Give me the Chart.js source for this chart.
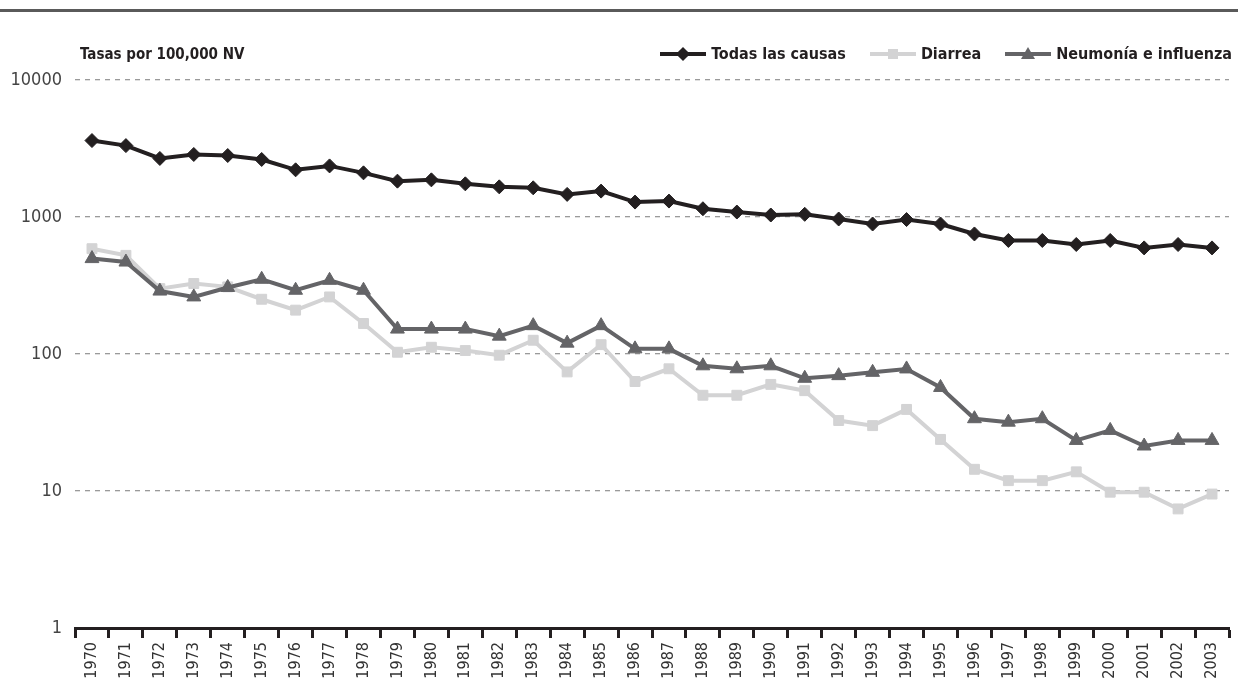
<!DOCTYPE html>
<html>
<head>
<meta charset="utf-8">
<script src="https://cdn.jsdelivr.net/npm/chart.js@4.4.1/dist/chart.umd.min.js"></script>
<style>
  html, body { margin: 0; padding: 0; background: #fff; }
  body { width: 1238px; height: 683px; position: relative; overflow: hidden;
         font-family: "Liberation Sans Narrow", "DejaVu Sans Condensed", Roboto, sans-serif; }
  #topline { position: absolute; left: 0; top: 9px; width: 1238px; height: 3px; background: #5a5a5a; }
  #wrap { position: absolute; left: 0; top: 0; width: 1238px; height: 683px; }
  #title { position: absolute; left: 80px; top: 45px; font-size: 15px; font-weight: bold; color: #231f20; }
  #legend { position: absolute; right: 6px; top: 44px; display: flex; align-items: center;
            font-size: 16px; font-weight: bold; color: #231f20; }
  .item { display: flex; align-items: center; margin-left: 24px; }
  .sym { position: relative; width: 46px; height: 16px; margin-right: 5px; }
  .sym .ln { position: absolute; left: 0; right: 0; top: 6px; height: 4px; }
  .sym .mk { position: absolute; }
</style>
</head>
<body>
<div id="topline"></div>
<div id="wrap"><canvas id="chart" width="1238" height="683"></canvas></div>
<div id="title">Tasas por 100,000 NV</div>
<div id="legend">
  <div class="item"><div class="sym"><div class="ln" style="background:#231f20"></div>
    <div class="mk" style="left:18px;top:3px;width:10px;height:10px;background:#231f20;transform:rotate(45deg)"></div></div>Todas las causas</div>
  <div class="item"><div class="sym"><div class="ln" style="background:#d3d3d4"></div>
    <div class="mk" style="left:18px;top:3px;width:10px;height:10px;background:#d3d3d4"></div></div>Diarrea</div>
  <div class="item"><div class="sym"><div class="ln" style="background:#646467"></div>
    <div class="mk" style="left:16px;top:1px;width:0;height:0;border-left:7px solid transparent;border-right:7px solid transparent;border-bottom:12px solid #646467"></div></div>Neumonía e influenza</div>
</div>
<script>
const years = ["1970","1971","1972","1973","1974","1975","1976","1977","1978","1979","1980","1981",
  "1982","1983","1984","1985","1986","1987","1988","1989","1990","1991","1992","1993","1994","1995",
  "1996","1997","1998","1999","2000","2001","2002","2003"];

const todasLasCausas = [3615, 3320, 2675, 2860, 2810, 2630, 2210, 2360, 2100, 1827, 1867,
  1746, 1660, 1633, 1462, 1545, 1285, 1307, 1149, 1087, 1034, 1046,
  967, 889, 958, 889, 752, 674, 674, 630, 674, 595, 630, 595];

const diarrea = [587, 525, 300, 327, 309, 251, 209, 261, 167,
  103, 112, 106, 98, 126, 74, 117, 63, 78, 50, 50, 60, 54,
  32.7, 30, 39.4, 23.8, 14.4, 11.9, 11.9, 13.8, 9.8, 9.8, 7.4, 9.5];

const neumonia = [497, 469, 288, 261, 306, 351, 292, 345, 292, 152, 152,
  152, 135, 161, 120, 161, 109, 109, 82, 78, 82, 66.5,
  69.5, 73.5, 77.8, 57, 33.7, 31.8, 33.7, 23.4, 27.7, 21.3, 23.4, 23.4];

const yTicks = [1, 10, 100, 1000, 10000];

const FONT = '"Liberation Sans Narrow", "DejaVu Sans Condensed", Roboto, sans-serif';

new Chart(document.getElementById("chart"), {
  type: "line",
  data: {
    labels: years,
    datasets: [
      {
        label: "Todas las causas",
        data: todasLasCausas,
        borderColor: "#231f20",
        backgroundColor: "#231f20",
        borderWidth: 4,
        pointStyle: "rectRot",
        pointRadius: 7,
        pointBorderWidth: 1,
        order: 0
      },
      {
        label: "Diarrea",
        data: diarrea,
        borderColor: "#d3d3d4",
        backgroundColor: "#d3d3d4",
        borderWidth: 4,
        pointStyle: "rect",
        pointRadius: 7,
        pointBorderWidth: 1,
        order: 2
      },
      {
        label: "Neumonía e influenza",
        data: neumonia,
        borderColor: "#646467",
        backgroundColor: "#646467",
        borderWidth: 4,
        pointStyle: "triangle",
        pointRadius: 8,
        pointBorderWidth: 1,
        order: 1
      }
    ]
  },
  options: {
    responsive: false,
    animation: false,
    layout: { padding: { top: 80, right: 5, left: 0, bottom: 0 } },
    plugins: { legend: { display: false }, tooltip: { enabled: false } },
    scales: {
      x: {
        type: "category",
        offset: true,
        grid: { offset: true, drawOnChartArea: false, drawTicks: true, tickLength: 10,
                tickWidth: 3, tickColor: "#231f20" },
        border: { display: true, color: "#231f20", width: 3 },
        ticks: { maxRotation: 90, minRotation: 90, autoSkip: false, padding: 4,
                 color: "#333", font: { family: FONT, size: 16 } },
        afterFit: s => { s.height = 55; }
      },
      y: {
        type: "logarithmic",
        min: 1,
        max: 10000,
        afterBuildTicks: s => { s.ticks = yTicks.map(v => ({ value: v })); },
        afterFit: s => { s.width = 75; },
        grid: {
          drawTicks: false,
          lineWidth: 1.3,
          color: c => (c.tick && c.tick.value === 1) ? "rgba(0,0,0,0)" : "#9a9a9a"
        },
        border: { display: false, dash: [5, 5] },
        ticks: {
          padding: 13,
          color: "#444",
          font: { family: FONT, size: 18 },
          callback: v => String(v)
        }
      }
    }
  }
});
</script>
</body>
</html>
